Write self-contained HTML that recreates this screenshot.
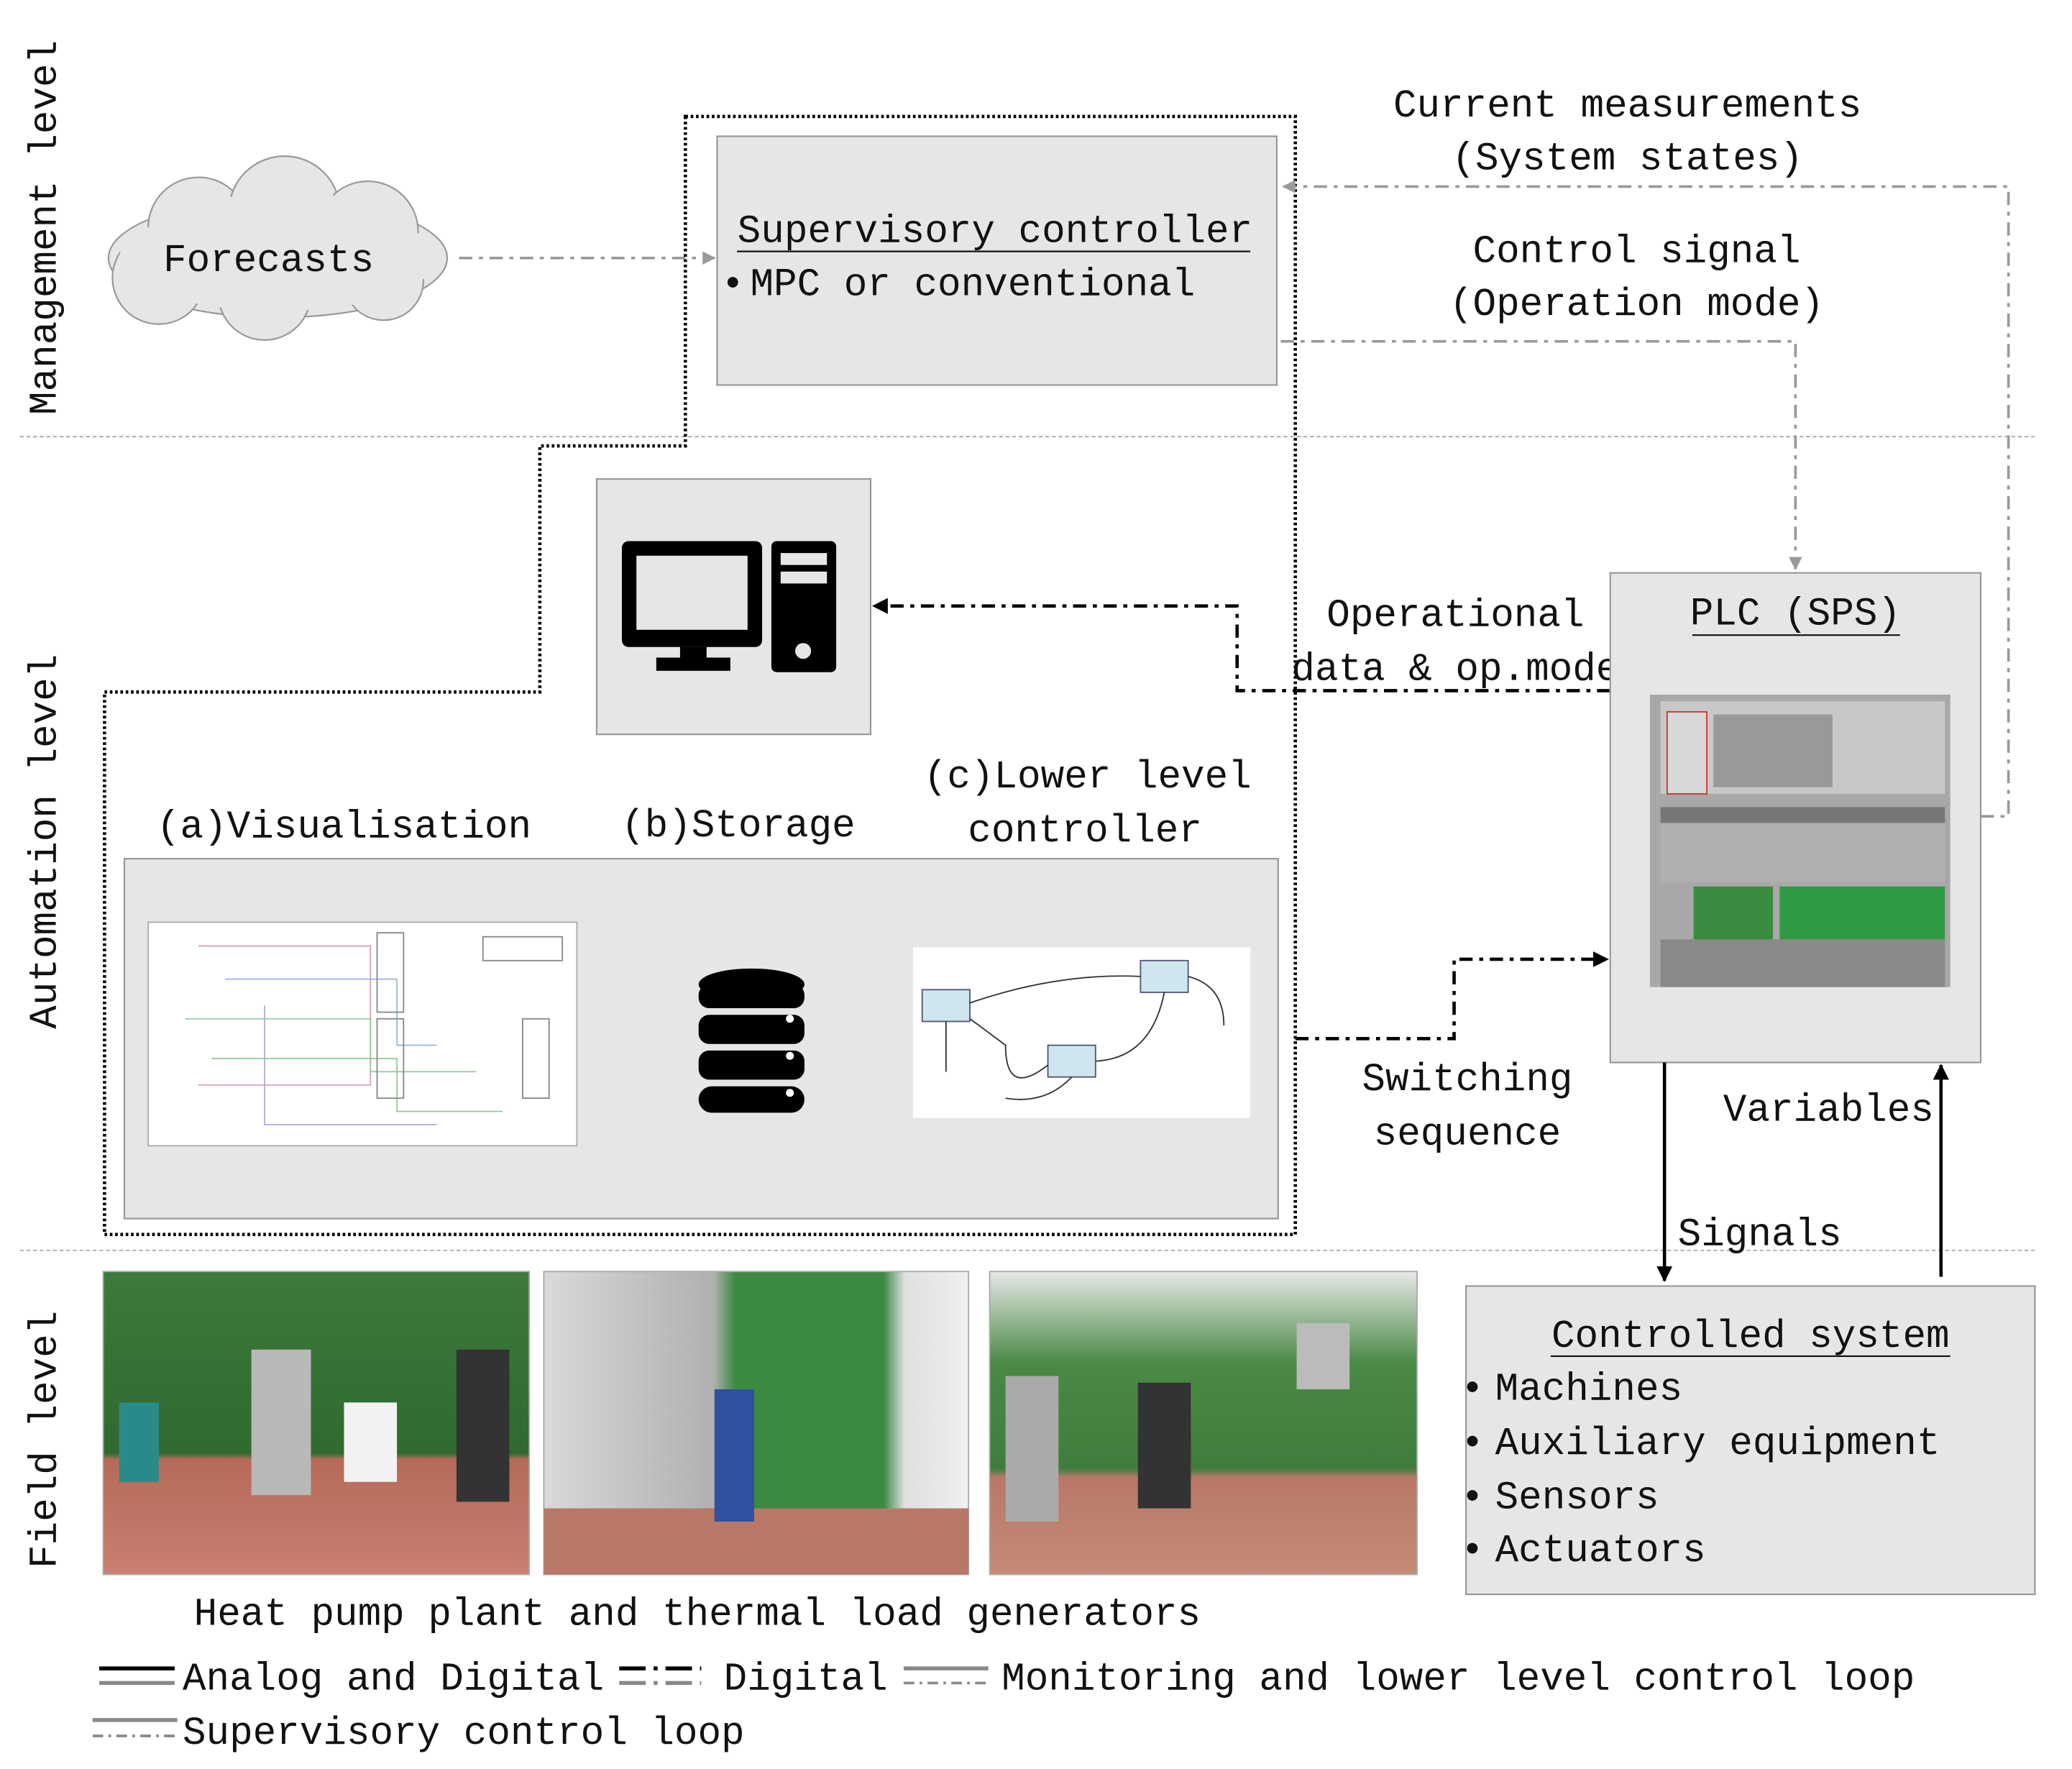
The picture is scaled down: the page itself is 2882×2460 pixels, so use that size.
<!DOCTYPE html>
<html><head><meta charset="utf-8"><style>
html,body{margin:0;padding:0;background:#fff;}
svg{display:block}
text{font-family:"Liberation Mono","DejaVu Sans Mono",monospace;fill:#111;}
</style></head><body>
<svg width="2882" height="2460" viewBox="0 0 1566 1337" preserveAspectRatio="none" xmlns="http://www.w3.org/2000/svg">
<defs>
<marker id="ag" markerWidth="10" markerHeight="10" refX="9" refY="5" orient="auto" markerUnits="userSpaceOnUse"><path d="M0,0 L10,5 L0,10z" fill="#999"/></marker>
<marker id="ab" markerWidth="12" markerHeight="12" refX="11" refY="6" orient="auto" markerUnits="userSpaceOnUse"><path d="M0,0 L12,6 L0,12z" fill="#000"/></marker>
<linearGradient id="p1" x1="0" y1="0" x2="0" y2="1"><stop offset="0" stop-color="#3d7a3a"/><stop offset="0.6" stop-color="#2f6a30"/><stop offset="0.62" stop-color="#b56a5a"/><stop offset="1" stop-color="#c98070"/></linearGradient>
<linearGradient id="p2" x1="0" y1="0" x2="1" y2="0"><stop offset="0" stop-color="#d9d9d9"/><stop offset="0.4" stop-color="#b0b0b0"/><stop offset="0.45" stop-color="#3c8a42"/><stop offset="0.8" stop-color="#3c8a42"/><stop offset="0.85" stop-color="#e0e0e0"/><stop offset="1" stop-color="#f0f0f0"/></linearGradient>
<linearGradient id="p3" x1="0" y1="0" x2="0" y2="1"><stop offset="0" stop-color="#e8e8e8"/><stop offset="0.3" stop-color="#4a8a45"/><stop offset="0.65" stop-color="#3f7d3c"/><stop offset="0.68" stop-color="#b87868"/><stop offset="1" stop-color="#c58a78"/></linearGradient>
</defs>

<text transform="translate(42,172) rotate(-90)" font-size="29.5" text-anchor="middle">Management level</text>
<text transform="translate(42,636) rotate(-90)" font-size="29.5" text-anchor="middle">Automation level</text>
<text transform="translate(42,1088) rotate(-90)" font-size="29.5" text-anchor="middle">Field level</text>

<line x1="15" y1="330" x2="1540" y2="330" stroke="#aaa" stroke-width="1" stroke-dasharray="3,2"/>
<line x1="15" y1="945" x2="1540" y2="945" stroke="#aaa" stroke-width="1" stroke-dasharray="3,2"/>

<g fill="#e6e6e6" stroke="#999" stroke-width="1.2">
<ellipse cx="210" cy="195" rx="128" ry="45"/>
<circle cx="150" cy="172" r="38"/><circle cx="215" cy="160" r="42"/><circle cx="278" cy="175" r="38"/>
<circle cx="120" cy="210" r="35"/><circle cx="200" cy="222" r="35"/><circle cx="290" cy="212" r="30"/>
</g>
<ellipse cx="210" cy="195" rx="120" ry="40" fill="#e6e6e6"/>
<circle cx="150" cy="175" r="36" fill="#e6e6e6"/><circle cx="215" cy="163" r="40" fill="#e6e6e6"/><circle cx="278" cy="178" r="36" fill="#e6e6e6"/><circle cx="120" cy="210" r="33" fill="#e6e6e6"/><circle cx="200" cy="220" r="33" fill="#e6e6e6"/><circle cx="290" cy="210" r="28" fill="#e6e6e6"/>
<text x="203" y="205" font-size="29.5" text-anchor="middle">Forecasts</text>
<line x1="347" y1="195" x2="540" y2="195" stroke="#999" stroke-width="2" stroke-dasharray="10,5,3,5" marker-end="url(#ag)"/>

<rect x="542" y="103" width="423" height="188" fill="#e6e6e6" stroke="#999" stroke-width="1.2"/>
<text x="752" y="183" font-size="29.5" text-anchor="middle">Supervisory controller</text>
<line x1="557" y1="190" x2="945" y2="190" stroke="#111" stroke-width="1.2"/>
<text x="545" y="223" font-size="29.5">•</text>
<text x="567" y="223" font-size="29.5">MPC or conventional</text>

<path d="M518,88 L979,88 L979,933 L79,933 L79,523 L408,523 L408,337 L518,337 Z" fill="none" stroke="#000" stroke-width="2.5" stroke-dasharray="2,2"/>

<rect x="451" y="362" width="207" height="193" fill="#e6e6e6" stroke="#999" stroke-width="1.2"/>
<rect x="470" y="409" width="106" height="80" rx="5" fill="#000"/>
<rect x="481" y="420" width="84" height="56" fill="#e6e6e6"/>
<rect x="514" y="489" width="20" height="10" fill="#000"/>
<rect x="496" y="497" width="56" height="10" fill="#000"/>
<rect x="583" y="409" width="49" height="99" rx="4" fill="#000"/>
<rect x="590" y="418" width="35" height="9" fill="#e6e6e6"/>
<rect x="590" y="432" width="35" height="9" fill="#e6e6e6"/>
<circle cx="607" cy="492" r="6" fill="#e6e6e6"/>

<path d="M1217,522 L935,522 L935,458 L660,458" fill="none" stroke="#000" stroke-width="2.5" stroke-dasharray="10,5,3,5" marker-end="url(#ab)"/>
<text x="1100" y="473" font-size="29.5" text-anchor="middle">Operational</text>
<text x="1100" y="514" font-size="29.5" text-anchor="middle">data &amp; op.mode</text>

<text x="260" y="633" font-size="29.5" text-anchor="middle">(a)Visualisation</text>
<text x="558" y="632" font-size="29.5" text-anchor="middle">(b)Storage</text>
<text x="822" y="595" font-size="29.5" text-anchor="middle">(c)Lower level</text>
<text x="820" y="636" font-size="29.5" text-anchor="middle">controller</text>

<rect x="94" y="649" width="872" height="272" fill="#e6e6e6" stroke="#999" stroke-width="1.2"/>
<rect x="112" y="697" width="324" height="169" fill="#fff" stroke="#aaa"/>
<g fill="none" stroke-width="1">
<path d="M150,715 H280 V820 H150" stroke="#d9a0b0"/>
<path d="M170,740 H300 V790 H330" stroke="#a0b8d9"/>
<path d="M140,770 H280 V810 H360" stroke="#9cc99c"/>
<path d="M160,800 H300 V840 H380" stroke="#9cc99c"/>
<path d="M200,760 V850 H330" stroke="#b0b0d9"/>
<rect x="285" y="705" width="20" height="60" stroke="#888"/>
<rect x="285" y="770" width="20" height="60" stroke="#888"/>
<rect x="395" y="770" width="20" height="60" stroke="#888"/>
<rect x="365" y="708" width="60" height="18" stroke="#888"/>
</g>
<g fill="#000">
<ellipse cx="568" cy="744" rx="40" ry="12"/>
<rect x="528" y="744" width="80" height="18" rx="8"/>
<rect x="528" y="767" width="80" height="22" rx="8"/>
<rect x="528" y="794" width="80" height="22" rx="8"/>
<rect x="528" y="821" width="80" height="20" rx="10"/>
</g>
<circle cx="597" cy="770" r="3" fill="#fff"/><circle cx="597" cy="798" r="3" fill="#fff"/><circle cx="597" cy="826" r="3" fill="#fff"/>
<rect x="690" y="716" width="255" height="129" fill="#fff"/>
<g fill="#cfe6ef" stroke="#557"><rect x="697" y="748" width="36" height="24"/><rect x="862" y="726" width="36" height="24"/><rect x="792" y="790" width="36" height="24"/></g>
<g fill="none" stroke="#333" stroke-width="1"><path d="M733,758 Q800,735 862,738"/><path d="M880,750 Q870,800 828,802"/><path d="M715,772 V810"/><path d="M792,805 Q760,830 760,790 Q740,775 733,770"/><path d="M898,738 Q925,745 925,775"/><path d="M810,814 Q790,835 760,830"/></g>

<path d="M979,785 L1099,785 L1099,725 L1215,725" fill="none" stroke="#000" stroke-width="2.5" stroke-dasharray="10,5,3,5" marker-end="url(#ab)"/>
<text x="1109" y="824" font-size="29.5" text-anchor="middle">Switching</text>
<text x="1109" y="865" font-size="29.5" text-anchor="middle">sequence</text>

<rect x="1217" y="433" width="280" height="370" fill="#e6e6e6" stroke="#999" stroke-width="1.2"/>
<text x="1357" y="472" font-size="29.5" text-anchor="middle">PLC (SPS)</text>
<line x1="1279" y1="480" x2="1436" y2="480" stroke="#111" stroke-width="1.2"/>
<rect x="1247" y="525" width="227" height="221" fill="#a8a8a8"/>
<rect x="1255" y="530" width="215" height="70" fill="#c8c8c8"/>
<rect x="1260" y="538" width="30" height="62" fill="#d8d8d8" stroke="#c33"/>
<rect x="1295" y="540" width="90" height="55" fill="#999"/>
<rect x="1255" y="610" width="215" height="12" fill="#777"/>
<rect x="1255" y="622" width="215" height="45" fill="#b0b0b0"/>
<rect x="1280" y="670" width="60" height="40" fill="#3a8a3f"/>
<rect x="1345" y="670" width="125" height="40" fill="#2f9a42"/>
<rect x="1255" y="710" width="215" height="36" fill="#8a8a8a"/>

<path d="M1497,617 L1518,617 L1518,141 L970,141" fill="none" stroke="#999" stroke-width="2" stroke-dasharray="10,5,3,5" marker-end="url(#ag)"/>
<path d="M968,258 L1357,258 L1357,430" fill="none" stroke="#999" stroke-width="2" stroke-dasharray="10,5,3,5" marker-end="url(#ag)"/>
<text x="1230" y="88" font-size="29.5" text-anchor="middle">Current measurements</text>
<text x="1230" y="128" font-size="29.5" text-anchor="middle">(System states)</text>
<text x="1237" y="198" font-size="29.5" text-anchor="middle">Control signal</text>
<text x="1237" y="238" font-size="29.5" text-anchor="middle">(Operation mode)</text>

<line x1="1258" y1="803" x2="1258" y2="968" stroke="#000" stroke-width="2.5" marker-end="url(#ab)"/>
<line x1="1467" y1="965" x2="1467" y2="805" stroke="#000" stroke-width="2.5" marker-end="url(#ab)"/>
<text x="1382" y="847" font-size="29.5" text-anchor="middle">Variables</text>
<text x="1330" y="941" font-size="29.5" text-anchor="middle">Signals</text>

<rect x="1108" y="972" width="430" height="233" fill="#e6e6e6" stroke="#999" stroke-width="1.2"/>
<text x="1323" y="1018" font-size="29.5" text-anchor="middle">Controlled system</text>
<line x1="1172" y1="1025" x2="1474" y2="1025" stroke="#111" stroke-width="1.2"/>
<g font-size="29.5">
<text x="1104" y="1058">•</text><text x="1130" y="1058">Machines</text>
<text x="1104" y="1099">•</text><text x="1130" y="1099">Auxiliary equipment</text>
<text x="1104" y="1140">•</text><text x="1130" y="1140">Sensors</text>
<text x="1104" y="1180">•</text><text x="1130" y="1180">Actuators</text>
</g>

<rect x="78" y="961" width="322" height="229" fill="url(#p1)" stroke="#aaa"/>
<rect x="190" y="1020" width="45" height="110" fill="#b8b8b8"/>
<rect x="345" y="1020" width="40" height="115" fill="#333"/>
<rect x="260" y="1060" width="40" height="60" fill="#f2f2f2"/>
<rect x="90" y="1060" width="30" height="60" fill="#2a8a8a"/>
<rect x="411" y="961" width="321" height="229" fill="url(#p2)" stroke="#aaa"/>
<rect x="411" y="1140" width="321" height="50" fill="#b87868"/>
<rect x="540" y="1050" width="30" height="100" fill="#3050a0"/>
<rect x="748" y="961" width="323" height="229" fill="url(#p3)" stroke="#aaa"/>
<rect x="760" y="1040" width="40" height="110" fill="#aaa"/>
<rect x="860" y="1045" width="40" height="95" fill="#333"/>
<rect x="980" y="1000" width="40" height="50" fill="#bbb"/>
<text x="527" y="1228" font-size="29.5" text-anchor="middle">Heat pump plant and thermal load generators</text>

<line x1="75" y1="1261" x2="132" y2="1261" stroke="#000" stroke-width="3"/>
<line x1="75" y1="1272" x2="132" y2="1272" stroke="#888" stroke-width="3"/>
<text x="138" y="1277" font-size="29.5">Analog and Digital</text>
<line x1="468" y1="1261" x2="530" y2="1261" stroke="#000" stroke-width="3" stroke-dasharray="20,6,3,6"/>
<line x1="468" y1="1272" x2="530" y2="1272" stroke="#888" stroke-width="3" stroke-dasharray="20,6,3,6"/>
<text x="547" y="1277" font-size="29.5">Digital</text>
<line x1="683" y1="1261" x2="747" y2="1261" stroke="#888" stroke-width="3"/>
<line x1="683" y1="1272" x2="747" y2="1272" stroke="#888" stroke-width="2" stroke-dasharray="8,4,2,4"/>
<text x="757" y="1277" font-size="29.5">Monitoring and lower level control loop</text>
<line x1="70" y1="1300" x2="134" y2="1300" stroke="#888" stroke-width="3"/>
<line x1="70" y1="1312" x2="134" y2="1312" stroke="#888" stroke-width="2" stroke-dasharray="8,4,2,4"/>
<text x="138" y="1318" font-size="29.5">Supervisory control loop</text>
</svg>
</body></html>
